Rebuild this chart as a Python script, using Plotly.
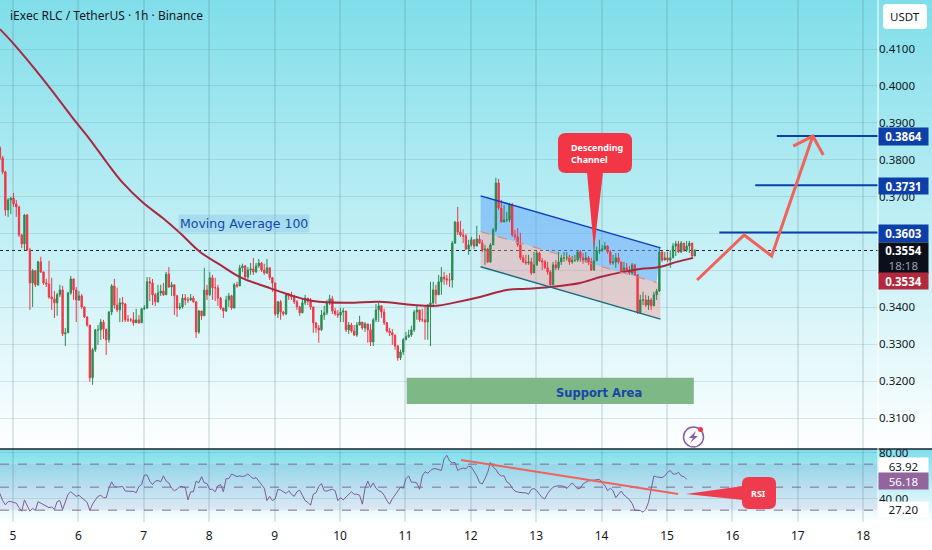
import plotly.graph_objects as go

# hourly candles, first bar sits at day 4.8
first_open = 0.3832
closes = [
    0.3805, 0.3767, 0.3664, 0.3691, 0.3696, 0.3680, 0.3672, 0.3596, 0.3572, 0.3650,
    0.3555, 0.3466, 0.3499, 0.3461, 0.3523, 0.3496, 0.3466, 0.3463, 0.3428, 0.3423,
    0.3412, 0.3434, 0.3447, 0.3328, 0.3331, 0.3439, 0.3477, 0.3447, 0.3420, 0.3431,
    0.3401, 0.3374, 0.3352, 0.3209, 0.3285, 0.3339, 0.3339, 0.3360, 0.3341, 0.3312,
    0.3387, 0.3458, 0.3406, 0.3393, 0.3412, 0.3409, 0.3366, 0.3366, 0.3366, 0.3358,
    0.3366, 0.3358, 0.3396, 0.3398, 0.3469, 0.3466, 0.3434, 0.3415, 0.3439, 0.3444,
    0.3434, 0.3490, 0.3455, 0.3461, 0.3431, 0.3398, 0.3401, 0.3425, 0.3420, 0.3420,
    0.3425, 0.3415, 0.3333, 0.3390, 0.3377, 0.3447, 0.3434, 0.3480, 0.3453, 0.3453,
    0.3425, 0.3398, 0.3390, 0.3420, 0.3431, 0.3398, 0.3461, 0.3458, 0.3507, 0.3512,
    0.3482, 0.3501, 0.3504, 0.3496, 0.3512, 0.3520, 0.3501, 0.3493, 0.3507, 0.3480,
    0.3466, 0.3382, 0.3415, 0.3387, 0.3382, 0.3434, 0.3431, 0.3428, 0.3415, 0.3401,
    0.3385, 0.3412, 0.3425, 0.3417, 0.3401, 0.3358, 0.3344, 0.3339, 0.3379, 0.3385,
    0.3412, 0.3423, 0.3390, 0.3382, 0.3379, 0.3387, 0.3390, 0.3339, 0.3352, 0.3336,
    0.3325, 0.3352, 0.3360, 0.3344, 0.3355, 0.3339, 0.3306, 0.3366, 0.3393, 0.3404,
    0.3387, 0.3358, 0.3336, 0.3331, 0.3325, 0.3295, 0.3263, 0.3279, 0.3312, 0.3320,
    0.3325, 0.3339, 0.3387, 0.3393, 0.3366, 0.3366, 0.3360, 0.3406, 0.3412, 0.3447,
    0.3434, 0.3469, 0.3482, 0.3477, 0.3474, 0.3474, 0.3574, 0.3631, 0.3604, 0.3596,
    0.3593, 0.3558, 0.3569, 0.3583, 0.3566, 0.3585, 0.3574, 0.3555, 0.3558, 0.3523,
    0.3569, 0.3610, 0.3737, 0.3669, 0.3631, 0.3637, 0.3637, 0.3677, 0.3596, 0.3591,
    0.3569, 0.3534, 0.3523, 0.3520, 0.3523, 0.3493, 0.3515, 0.3547, 0.3526, 0.3523,
    0.3507, 0.3496, 0.3461, 0.3515, 0.3507, 0.3523, 0.3534, 0.3534, 0.3534, 0.3523,
    0.3528, 0.3528, 0.3550, 0.3534, 0.3528, 0.3534, 0.3523, 0.3501, 0.3526, 0.3553,
    0.3555, 0.3558, 0.3566, 0.3550, 0.3520, 0.3523, 0.3534, 0.3523, 0.3496, 0.3507,
    0.3501, 0.3493, 0.3515, 0.3488, 0.3385, 0.3420, 0.3420, 0.3406, 0.3420, 0.3404,
    0.3434, 0.3444, 0.3550, 0.3528, 0.3534, 0.3528, 0.3534, 0.3566, 0.3572, 0.3550,
    0.3574, 0.3555, 0.3566, 0.3574, 0.3539, 0.3554,
]
highs = [
    0.3837, 0.3810, 0.3770, 0.3696, 0.3699, 0.3710, 0.3691, 0.3675, 0.3599, 0.3653,
    0.3653, 0.3561, 0.3504, 0.3501, 0.3526, 0.3537, 0.3496, 0.3477, 0.3526, 0.3480,
    0.3444, 0.3439, 0.3461, 0.3458, 0.3344, 0.3442, 0.3485, 0.3474, 0.3455, 0.3444,
    0.3436, 0.3401, 0.3371, 0.3344, 0.3290, 0.3341, 0.3352, 0.3368, 0.3366, 0.3325,
    0.3390, 0.3463, 0.3477, 0.3453, 0.3425, 0.3428, 0.3412, 0.3379, 0.3371, 0.3387,
    0.3396, 0.3379, 0.3398, 0.3406, 0.3482, 0.3482, 0.3477, 0.3439, 0.3461, 0.3461,
    0.3466, 0.3496, 0.3509, 0.3469, 0.3461, 0.3434, 0.3412, 0.3436, 0.3436, 0.3428,
    0.3436, 0.3431, 0.3393, 0.3393, 0.3390, 0.3507, 0.3461, 0.3496, 0.3488, 0.3480,
    0.3461, 0.3428, 0.3398, 0.3431, 0.3439, 0.3434, 0.3466, 0.3469, 0.3515, 0.3518,
    0.3515, 0.3509, 0.3520, 0.3534, 0.3520, 0.3531, 0.3523, 0.3518, 0.3531, 0.3501,
    0.3482, 0.3466, 0.3417, 0.3420, 0.3390, 0.3436, 0.3439, 0.3442, 0.3434, 0.3420,
    0.3404, 0.3425, 0.3434, 0.3425, 0.3425, 0.3398, 0.3360, 0.3352, 0.3393, 0.3404,
    0.3420, 0.3434, 0.3431, 0.3398, 0.3393, 0.3398, 0.3398, 0.3387, 0.3360, 0.3358,
    0.3352, 0.3360, 0.3377, 0.3360, 0.3360, 0.3355, 0.3355, 0.3371, 0.3409, 0.3412,
    0.3401, 0.3396, 0.3360, 0.3344, 0.3341, 0.3325, 0.3298, 0.3285, 0.3317, 0.3333,
    0.3339, 0.3350, 0.3393, 0.3404, 0.3393, 0.3396, 0.3406, 0.3409, 0.3469, 0.3469,
    0.3461, 0.3488, 0.3509, 0.3496, 0.3488, 0.3493, 0.3580, 0.3634, 0.3672, 0.3634,
    0.3612, 0.3599, 0.3583, 0.3591, 0.3583, 0.3621, 0.3596, 0.3583, 0.3569, 0.3561,
    0.3574, 0.3615, 0.3751, 0.3748, 0.3691, 0.3677, 0.3658, 0.3683, 0.3683, 0.3610,
    0.3615, 0.3602, 0.3542, 0.3542, 0.3542, 0.3534, 0.3550, 0.3553, 0.3550, 0.3534,
    0.3528, 0.3523, 0.3501, 0.3523, 0.3528, 0.3550, 0.3542, 0.3550, 0.3550, 0.3542,
    0.3539, 0.3542, 0.3555, 0.3555, 0.3547, 0.3550, 0.3539, 0.3534, 0.3577, 0.3564,
    0.3583, 0.3569, 0.3577, 0.3569, 0.3555, 0.3542, 0.3547, 0.3547, 0.3523, 0.3523,
    0.3520, 0.3512, 0.3520, 0.3518, 0.3490, 0.3434, 0.3442, 0.3434, 0.3431, 0.3425,
    0.3442, 0.3450, 0.3564, 0.3555, 0.3550, 0.3550, 0.3555, 0.3574, 0.3580, 0.3580,
    0.3580, 0.3574, 0.3580, 0.3580, 0.3572, 0.3558,
]
lows = [
    0.3799, 0.3761, 0.3648, 0.3645, 0.3653, 0.3672, 0.3645, 0.3591, 0.3561, 0.3555,
    0.3555, 0.3393, 0.3401, 0.3455, 0.3458, 0.3493, 0.3461, 0.3455, 0.3423, 0.3393,
    0.3371, 0.3377, 0.3428, 0.3322, 0.3295, 0.3347, 0.3434, 0.3420, 0.3360, 0.3417,
    0.3396, 0.3371, 0.3347, 0.3198, 0.3190, 0.3279, 0.3298, 0.3312, 0.3314, 0.3271,
    0.3304, 0.3379, 0.3396, 0.3387, 0.3360, 0.3360, 0.3360, 0.3360, 0.3360, 0.3350,
    0.3360, 0.3355, 0.3360, 0.3393, 0.3396, 0.3417, 0.3406, 0.3404, 0.3412, 0.3431,
    0.3431, 0.3434, 0.3453, 0.3431, 0.3379, 0.3374, 0.3393, 0.3396, 0.3406, 0.3412,
    0.3417, 0.3412, 0.3317, 0.3328, 0.3366, 0.3377, 0.3420, 0.3431, 0.3420, 0.3417,
    0.3404, 0.3393, 0.3371, 0.3387, 0.3401, 0.3393, 0.3401, 0.3453, 0.3461, 0.3496,
    0.3474, 0.3477, 0.3488, 0.3488, 0.3493, 0.3507, 0.3496, 0.3488, 0.3490, 0.3474,
    0.3442, 0.3377, 0.3371, 0.3366, 0.3377, 0.3379, 0.3420, 0.3420, 0.3409, 0.3393,
    0.3377, 0.3387, 0.3406, 0.3406, 0.3393, 0.3331, 0.3331, 0.3304, 0.3336, 0.3366,
    0.3379, 0.3406, 0.3382, 0.3377, 0.3371, 0.3360, 0.3360, 0.3333, 0.3328, 0.3331,
    0.3322, 0.3320, 0.3352, 0.3339, 0.3333, 0.3304, 0.3295, 0.3295, 0.3360, 0.3360,
    0.3371, 0.3352, 0.3331, 0.3322, 0.3298, 0.3285, 0.3255, 0.3257, 0.3271, 0.3312,
    0.3317, 0.3320, 0.3333, 0.3366, 0.3360, 0.3360, 0.3312, 0.3312, 0.3295, 0.3406,
    0.3409, 0.3434, 0.3434, 0.3461, 0.3461, 0.3455, 0.3453, 0.3572, 0.3596, 0.3591,
    0.3574, 0.3555, 0.3542, 0.3564, 0.3558, 0.3572, 0.3572, 0.3550, 0.3515, 0.3520,
    0.3520, 0.3569, 0.3604, 0.3664, 0.3631, 0.3631, 0.3631, 0.3631, 0.3591, 0.3583,
    0.3564, 0.3528, 0.3520, 0.3515, 0.3515, 0.3488, 0.3507, 0.3512, 0.3523, 0.3501,
    0.3504, 0.3488, 0.3455, 0.3461, 0.3501, 0.3501, 0.3515, 0.3523, 0.3526, 0.3515,
    0.3518, 0.3523, 0.3523, 0.3523, 0.3518, 0.3523, 0.3515, 0.3499, 0.3499, 0.3534,
    0.3545, 0.3550, 0.3555, 0.3545, 0.3515, 0.3515, 0.3507, 0.3518, 0.3493, 0.3496,
    0.3496, 0.3488, 0.3488, 0.3485, 0.3382, 0.3382, 0.3406, 0.3401, 0.3393, 0.3393,
    0.3412, 0.3420, 0.3442, 0.3523, 0.3528, 0.3523, 0.3507, 0.3534, 0.3539, 0.3547,
    0.3547, 0.3550, 0.3550, 0.3547, 0.3534, 0.3545,
]
rsi = [
    44.5, 38.3, 34.6, 37.4, 37.4, 36.8, 36.1, 32.2, 29.1, 38.9,
    33.7, 29.1, 31.5, 29.7, 37.4, 36.1, 34.6, 33.7, 32.2, 32.8,
    30.6, 37.4, 38.3, 30.6, 38.3, 43.8, 46.0, 43.8, 42.0, 42.9,
    40.8, 38.3, 36.8, 29.7, 35.2, 38.9, 42.0, 42.9, 40.8, 40.8,
    49.1, 54.6, 50.6, 50.0, 50.6, 50.6, 46.6, 46.3, 46.3, 46.3,
    45.1, 50.6, 52.2, 60.5, 60.5, 55.2, 52.2, 55.2, 55.8, 54.6,
    59.8, 55.2, 53.7, 49.1, 46.9, 48.1, 50.6, 50.6, 50.0, 38.9,
    46.0, 46.0, 55.2, 53.7, 59.2, 53.7, 53.1, 48.1, 48.1, 46.0,
    51.2, 52.2, 46.0, 57.4, 57.4, 61.4, 60.5, 59.2, 59.8, 59.2,
    59.8, 61.4, 59.2, 57.4, 58.3, 55.2, 52.2, 49.1, 38.3, 42.0,
    38.3, 39.8, 48.1, 47.5, 46.0, 44.5, 46.9, 43.8, 42.0, 46.0,
    47.5, 42.9, 38.3, 36.8, 34.3, 43.8, 45.1, 50.6, 53.1, 46.9,
    46.6, 47.5, 48.1, 46.9, 38.3, 40.8, 38.9, 41.4, 43.8, 46.0,
    43.8, 43.8, 42.9, 35.2, 49.1, 55.2, 49.7, 53.7, 49.1, 46.9,
    46.0, 42.9, 38.3, 35.2, 39.8, 42.9, 46.9, 50.0, 49.1, 57.4,
    59.8, 54.3, 54.3, 53.7, 48.1, 59.8, 63.5, 62.0, 64.5, 66.0,
    66.0, 65.1, 64.5, 74.6, 77.7, 72.8, 71.2, 71.5, 64.5, 66.0,
    66.6, 66.0, 68.2, 67.5, 63.5, 59.8, 54.0, 52.8, 57.4, 62.9,
    71.5, 67.5, 65.4, 61.4, 59.8, 59.8, 54.6, 53.1, 49.1, 46.6,
    45.7, 45.1, 45.1, 45.1, 43.8, 48.1, 48.8, 46.9, 43.8, 40.8,
    39.8, 44.5, 47.5, 50.0, 50.9, 51.2, 51.2, 50.6, 48.8, 51.2,
    53.7, 51.2, 48.5, 49.1, 52.8, 54.3, 55.5, 55.8, 56.2, 56.5,
    56.8, 53.7, 51.5, 46.9, 49.1, 46.9, 40.8, 43.8, 46.6, 43.2,
    41.4, 39.2, 35.8, 30.0, 29.7, 29.7, 28.2, 30.6, 36.8, 47.5,
    59.8, 58.9, 58.3, 58.3, 59.8, 62.9, 64.5, 61.4, 61.4, 62.9,
    59.8, 59.2, 56.8,
]

# moving average, read at its bends
ma_days = [4.80, 5.00, 5.31, 5.61, 5.90, 6.18, 6.44, 6.68, 6.99, 7.29, 7.55, 7.86,
           8.17, 8.47, 8.88, 9.19, 9.59, 10.11, 10.61, 11.12, 11.48, 11.73, 12.14,
           12.55, 12.86, 13.21, 13.67, 13.98, 14.33, 14.59, 14.89, 15.15, 15.40]
ma_values = [0.4154, 0.4116, 0.4051, 0.3984, 0.3916, 0.3854, 0.3791, 0.3737, 0.3683,
             0.3642, 0.3602, 0.3550, 0.3515, 0.3482, 0.3455, 0.3436, 0.3417, 0.3412,
             0.3415, 0.3406, 0.3404, 0.3412, 0.3428, 0.3447, 0.3450, 0.3455, 0.3466,
             0.3482, 0.3496, 0.3504, 0.3509, 0.3523, 0.3534]

day_ticks = list(range(5, 19))
price_ticks = [0.31, 0.32, 0.33, 0.34, 0.35, 0.36, 0.37, 0.38, 0.39, 0.40, 0.41]
# 0.35 and 0.36 sit behind the price boxes in the picture
price_labels = ["0.3100", "0.3200", "0.3300", "0.3400", "", "", "0.3700", "0.3800", "0.3900", "0.4000", "0.4100"]
rsi_ticks = [40, 80]
rsi_levels = [70, 50, 30]

# drawings on the price pane
channel_days = [12.15, 14.90]
channel_top = [0.3702, 0.3561]
channel_mid_days = [12.15, 14.84]
channel_mid = [0.3605, 0.3467]
channel_bottom = [0.3510, 0.3368]
target_prices = [0.3864, 0.3731, 0.3603]
target_starts = [16.68, 16.35, 15.80]
arrow_days = [15.46, 16.18, 16.60, 17.23, 16.93, 17.23, 17.39]
arrow_prices = [0.3474, 0.3596, 0.3539, 0.3864, 0.3837, 0.3864, 0.3813]
support_days = [11.02, 15.41]
support_prices = [0.3138, 0.3209]
last_price = 0.3554
rsi_trend_days = [11.85, 15.17]
rsi_trend_values = [73.7, 44.1]

W, H = 932, 550
AXIS_X = 878
PANE_Y = 449
RSI_BOTTOM = 522
GREEN = "#2b8a50"
RED = "#f23645"
ORANGE = "#f0625a"
BLUE = "#0d3fa8"
TEXT = "#131722"
FONT = "Noto Sans"
GRID = "rgba(70,110,125,0.16)"


def fx(px):
    return px / W


def fy(px):
    return 1 - px / H


def pts(points):
    return " ".join(f"{'M' if i == 0 else 'L'} {fx(x):.5f} {fy(y):.5f}" for i, (x, y) in enumerate(points))


def band_color(t):
    # cyan at the top of a pane fading out to white
    r = round(128 + (255 - 128) * t)
    g = round(222 + (255 - 222) * t)
    b = round(234 + (255 - 234) * t)
    return f"rgb({r},{g},{b})"


def rounded(x0, y0, x1, y1, r):
    return (
        f"M {fx(x0 + r)} {fy(y0)} L {fx(x1 - r)} {fy(y0)} Q {fx(x1)} {fy(y0)} {fx(x1)} {fy(y0 + r)} "
        f"L {fx(x1)} {fy(y1 - r)} Q {fx(x1)} {fy(y1)} {fx(x1 - r)} {fy(y1)} "
        f"L {fx(x0 + r)} {fy(y1)} Q {fx(x0)} {fy(y1)} {fx(x0)} {fy(y1 - r)} "
        f"L {fx(x0)} {fy(y0 + r)} Q {fx(x0)} {fy(y0)} {fx(x0 + r)} {fy(y0)} Z"
    )


n = len(closes)
bar_days = [4.8 + i / 24 for i in range(n)]
opens = [first_open] + closes[:-1]
x_range = [5 - 13 / 65.4, 5 + (AXIS_X - 13) / 65.4]

fig = go.Figure()

fig.add_trace(go.Candlestick(
    x=bar_days, open=opens, high=highs, low=lows, close=closes,
    increasing=dict(line=dict(color=GREEN, width=1), fillcolor=GREEN),
    decreasing=dict(line=dict(color=RED, width=1), fillcolor=RED),
    whiskerwidth=0, hoverinfo="skip", showlegend=False,
))
fig.add_trace(go.Scatter(x=ma_days, y=ma_values, mode="lines", line=dict(color="#ab2740", width=2, shape="spline"), hoverinfo="skip"))
fig.add_trace(go.Scatter(x=channel_days, y=channel_top, mode="lines", line=dict(color="#0d3fc0", width=1.5), hoverinfo="skip"))
fig.add_trace(go.Scatter(x=channel_mid_days, y=channel_mid, mode="lines", line=dict(color="#ef7a6a", width=1, dash="dash"), hoverinfo="skip"))
fig.add_trace(go.Scatter(x=channel_days, y=channel_bottom, mode="lines", line=dict(color="#1b6b80", width=1.5), hoverinfo="skip"))
for price, start in zip(target_prices, target_starts):
    fig.add_trace(go.Scatter(x=[start, x_range[1]], y=[price, price], mode="lines", line=dict(color=BLUE, width=2), hoverinfo="skip"))
fig.add_trace(go.Scatter(x=arrow_days, y=arrow_prices, mode="lines", line=dict(color=ORANGE, width=3), hoverinfo="skip"))

# rsi pane
fig.add_trace(go.Scatter(x=bar_days[:len(rsi)], y=rsi, mode="lines", yaxis="y2", line=dict(color="#7e5a9b", width=1), hoverinfo="skip"))
fig.add_trace(go.Scatter(x=rsi_trend_days, y=rsi_trend_values, mode="lines", yaxis="y2", line=dict(color=ORANGE, width=2), hoverinfo="skip"))

shapes = []
# pane gradients go under the grid
for top in range(0, PANE_Y, 4):
    shapes.append(dict(type="rect", xref="paper", yref="paper", x0=0, x1=1, y0=fy(top + 4), y1=fy(top),
                       fillcolor=band_color(top / PANE_Y), line_width=0, layer="below"))
for top in range(PANE_Y, RSI_BOTTOM, 2):
    shapes.append(dict(type="rect", xref="paper", yref="paper", x0=0, x1=1, y0=fy(top + 2), y1=fy(top),
                       fillcolor=band_color((top - PANE_Y) / (RSI_BOTTOM - PANE_Y)), line_width=0, layer="below"))
shapes.append(dict(type="rect", xref="paper", yref="y2", x0=0, x1=fx(AXIS_X), y0=rsi_levels[2], y1=rsi_levels[0],
                   fillcolor="rgba(126,87,194,0.10)", line_width=0, layer="between"))
for level in rsi_levels:
    shapes.append(dict(type="line", xref="paper", yref="y2", x0=0, x1=fx(AXIS_X), y0=level, y1=level,
                       line=dict(color="#7d6f88", width=1, dash="dash"), layer="between"))

# channel fills stay behind the candles
shapes.append(dict(type="path", xref="x", yref="y", layer="between", line_width=0, fillcolor="rgba(100,170,250,0.55)",
                   path=f"M {channel_days[0]} {channel_top[0]} L {channel_days[1]} {channel_top[1]} "
                        f"L {channel_mid_days[1]} {channel_mid[1]} L {channel_mid_days[0]} {channel_mid[0]} Z"))
shapes.append(dict(type="path", xref="x", yref="y", layer="between", line_width=0, fillcolor="rgba(242,150,150,0.42)",
                   path=f"M {channel_mid_days[0]} {channel_mid[0]} L {channel_days[1]} {channel_mid[1] - 0.0002} "
                        f"L {channel_days[1]} {channel_bottom[1]} L {channel_days[0]} {channel_bottom[0]} Z"))
shapes.append(dict(type="rect", xref="x", yref="y", x0=support_days[0], x1=support_days[1],
                   y0=support_prices[0], y1=support_prices[1], fillcolor="#7db886", line_width=0, layer="between"))
shapes.append(dict(type="line", xref="paper", yref="y", x0=0, x1=fx(AXIS_X), y0=last_price, y1=last_price,
                   line=dict(color="#1a2030", width=1, dash="dot"), layer="between"))

# frame lines
shapes.append(dict(type="line", xref="paper", yref="paper", x0=0, x1=1, y0=fy(PANE_Y), y1=fy(PANE_Y),
                   line=dict(color="#1c2230", width=1.5)))
shapes.append(dict(type="line", xref="paper", yref="paper", x0=fx(AXIS_X), x1=fx(AXIS_X), y0=fy(RSI_BOTTOM), y1=1,
                   line=dict(color="white", width=1)))

# callouts
shapes.append(dict(type="path", xref="paper", yref="paper", fillcolor=RED, line_width=0,
                   path=rounded(558, 133, 632, 173, 8)))
shapes.append(dict(type="path", xref="paper", yref="paper", fillcolor=RED, line_width=0,
                   path=pts([(587, 172), (603, 172), (594, 250)]) + " Z"))
shapes.append(dict(type="path", xref="paper", yref="paper", fillcolor="#ee3b4e", line_width=0,
                   path=rounded(742, 477, 776, 509, 7)))
shapes.append(dict(type="path", xref="paper", yref="paper", fillcolor="#ee3b4e", line_width=0,
                   path=pts([(743, 486), (743, 500), (686, 494)]) + " Z"))

# USDT button
shapes.append(dict(type="path", xref="paper", yref="paper", fillcolor="white", line_width=0,
                   path=rounded(883, 4, 927, 29, 4)))

# flash icon
shapes.append(dict(type="circle", xref="paper", yref="paper", x0=fx(683.5), x1=fx(703.5), y0=fy(447), y1=fy(427),
                   line=dict(color="#8a5aa8", width=1.5), fillcolor="rgba(0,0,0,0)"))
shapes.append(dict(type="path", xref="paper", yref="paper", fillcolor="#8a5aa8", line_width=0,
                   path=pts([(696, 431), (689, 438), (693, 438), (690, 443), (698, 436), (694, 436)]) + " Z"))
shapes.append(dict(type="circle", xref="paper", yref="paper", x0=fx(698), x1=fx(703), y0=fy(432), y1=fy(427),
                   fillcolor=RED, line_width=0))


def note(px, py, text, anchor="center", **kwargs):
    return dict(xref="paper", yref="paper", x=fx(px), y=fy(py), text=text, showarrow=False,
                xanchor=anchor, yanchor="middle", **kwargs)


def axis_box(text, y0, y1, bg, color="white", size=11.5):
    return note(903.5, (y0 + y1) / 2, text, width=49, height=y1 - y0, bgcolor=bg, align="center", valign="middle",
                font=dict(family=FONT, size=size, color=color), borderpad=0)


annotations = [
    note(8, 16, "iExec RLC / TetherUS · 1h · Binance", "left", font=dict(family=FONT, size=12, color=TEXT)),
    note(905, 17, "USDT", font=dict(family=FONT, size=11.5, color=TEXT)),
    note(244, 223, "Moving Average 100", bgcolor="rgba(120,190,230,0.35)",
         font=dict(family="DejaVu Sans", size=12.5, color="#1746a8")),
    note(599, 393, "<b>Support Area</b>", font=dict(family="DejaVu Sans", size=11.5, color="#1746a8")),
    note(569, 153, "<b>Descending<br>Channel</b>", "left", align="left", font=dict(family=FONT, size=9, color="white")),
    note(758, 493, "<b>RSI</b>", font=dict(family=FONT, size=9, color="white")),
    axis_box("<b>0.3864</b>", 128, 145, "#0d3fa8"),
    axis_box("<b>0.3731</b>", 178, 194, "#0d3fa8"),
    axis_box("<b>0.3603</b>", 225, 242, "#0d3fa8"),
    axis_box("<b>0.3554</b><br><span style='color:#9aa3b2'>18:18</span>", 243, 273, "#0b0f1a"),
    axis_box("<b>0.3534</b>", 273, 289, "#b2283c"),
    axis_box("63.92", 458, 474, "white", TEXT),
    axis_box("56.18", 473, 489, "#92659f"),
    axis_box("27.20", 502, 517, "white", TEXT),
]

fig.update_layout(
    width=W, height=H, margin=dict(l=0, r=0, t=0, b=0, autoexpand=False),
    paper_bgcolor="white", plot_bgcolor="rgba(0,0,0,0)",
    showlegend=False, dragmode=False, shapes=shapes, annotations=annotations,
    font=dict(family=FONT, size=11.5, color=TEXT),
    xaxis=dict(domain=[0, fx(AXIS_X)], range=x_range, anchor="y2", rangeslider=dict(visible=False),
               tickmode="array", tickvals=day_ticks, ticktext=[str(d) for d in day_ticks], ticks="",
               ticklabelstandoff=5, tickfont=dict(size=12), showgrid=True, gridcolor=GRID, gridwidth=1.5,
               zeroline=False, showline=False),
    yaxis=dict(domain=[fy(PANE_Y), 1], range=[0.41 - 400 / 3690, 0.41 + 49 / 3690], side="right", anchor="x",
               tickmode="array", tickvals=price_ticks, ticktext=price_labels, ticks="",
               showgrid=True, gridcolor=GRID, gridwidth=1, zeroline=False, showline=False),
    yaxis2=dict(domain=[fy(RSI_BOTTOM), fy(PANE_Y + 1)], range=[19.7, 82.3], side="right", anchor="x",
                tickmode="array", tickvals=rsi_ticks, tickformat=".2f", ticks="",
                showgrid=True, gridcolor=GRID, gridwidth=1, zeroline=False, showline=False),
)

fig.write_html("out.html", config={"displayModeBar": False}, post_script="document.body.style.margin='0';")
